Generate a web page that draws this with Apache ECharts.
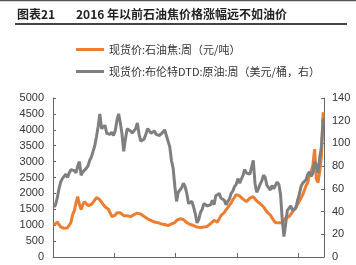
<!DOCTYPE html>
<html>
<head>
<meta charset="utf-8">
<script src="https://cdn.jsdelivr.net/npm/echarts@6/dist/echarts.min.js"></script>
<style>
html,body{margin:0;padding:0;background:#fff;}
#c{width:356px;height:265px;}
</style>
</head>
<body>
<div id="c"></div>
<script>
// ---- data ----
const titleText = ['图表21', '2016 年以前石油焦价格涨幅远不如油价'];
const seriesNames = ['现货价:石油焦:周（元/吨）', '现货价:布伦特DTD:原油:周（美元/桶，右）'];
const startYear = 2009; // first month: 2009-01, monthly points
const leftTicks = {min: 0, max: 5000, interval: 500};
const rightTicks = {min: 0, max: 140, interval: 20};

// 石油焦 (元/吨), monthly, 2009-01 .. 2022-03
const petcoke = [
  1000, 1050, 1100, 1080, 950, 920, 900, 910, 920, 950, 1080, 1330,   // 2009
  1450, 1700, 1900, 1650, 1490, 1650, 1740, 1700, 1620, 1580, 1650, 1720, // 2010
  1780, 1870, 1830, 1800, 1750, 1650, 1580, 1580, 1500, 1400, 1270, 1300, // 2011
  1320, 1390, 1400, 1390, 1350, 1300, 1280, 1300, 1280, 1270, 1300, 1330, // 2012
  1350, 1380, 1390, 1350, 1300, 1270, 1230, 1200, 1180, 1150, 1120, 1100, // 2013
  1110, 1080, 1060, 1040, 1030, 1020, 1010, 990, 1000, 1040, 1060, 1080,  // 2014
  1150, 1180, 1200, 1230, 1180, 1120, 1080, 1050, 1020, 1000, 990, 980,   // 2015
  940, 920, 930, 950, 940, 930, 960, 1010, 1050, 1080, 1150, 1100,        // 2016
  1100, 1200, 1300, 1330, 1400, 1480, 1550, 1580, 1700, 1800, 1880, 1960, // 2017
  1960, 1920, 1900, 1820, 1760, 1740, 1780, 1850, 1900, 1900, 1850, 1760, // 2018
  1740, 1680, 1620, 1580, 1500, 1420, 1390, 1320, 1230, 1150, 1080, 1060, // 2019
  1080, 1090, 1080, 1150, 1230, 1250, 1270, 1330, 1420, 1490, 1550, 1650, // 2020
  1750, 1850, 1960, 2100, 2250, 2340, 2600, 2700, 2900, 3390, 2450, 2340, // 2021
  2700, 3170, 4550                                                      // 2022
];
// 布伦特DTD (美元/桶), monthly, 2009-01 .. 2022-03
const brent = [
  44, 46, 52, 60, 66, 69, 68, 73, 70, 74, 77, 76,        // 2009
  76, 74, 80, 84, 72, 75, 76, 78, 80, 85, 88, 93,        // 2010
  98, 106, 115, 126, 113, 112, 116, 109, 110, 108, 110, 107, // 2011
  111, 120, 126, 118, 108, 93, 104, 113, 112, 111, 109, 109, // 2012
  113, 118, 108, 102, 103, 104, 108, 113, 111, 109, 108, 111, // 2013
  108, 109, 107, 108, 110, 112, 107, 102, 97, 85, 78, 62,  // 2014
  49, 57, 56, 61, 65, 62, 56, 47, 48, 49, 44, 38,        // 2015
  30, 33, 39, 42, 47, 48, 45, 46, 46, 50, 46, 54,        // 2016
  55, 56, 52, 53, 50, 46, 49, 51, 56, 58, 62, 64,        // 2017
  69, 65, 66, 72, 77, 74, 74, 73, 79, 85, 65, 57,        // 2018
  60, 64, 67, 72, 70, 63, 64, 59, 63, 60, 63, 66,        // 2019
  64, 55, 33, 18, 29, 41, 43, 45, 41, 40, 43, 50,        // 2020
  55, 62, 65, 65, 68, 73, 75, 71, 74, 84, 81, 74,        // 2021
  88, 97, 122                                            // 2022
];
const xAxisMonths = {min: 0, max: 159, interval: 36}; // months since 2009-01

// ---- build ----
const toPairs = arr => arr.map((v, i) => [i + 0.5, v]);
const chart = echarts.init(document.getElementById('c'), null, {renderer: 'canvas'});
const axisColor = '#666';
const labelStyle = {color: '#333', fontSize: 11, fontFamily: 'Liberation Sans, Arial, sans-serif', formatter: v => String(v)};
chart.setOption({
  animation: false,
  backgroundColor: '#fff',
  graphic: [
    {type: 'line', shape: {x1: 0, y1: 0.5, x2: 356, y2: 0.5}, style: {stroke: '#555', lineWidth: 1.5}},
    {type: 'text', left: 17, top: 8, style: {text: titleText[0], font: 'bold 12px "Noto Sans CJK SC", sans-serif', fill: '#222'}},
    {type: 'text', left: 76, top: 8, style: {text: titleText[1], font: 'bold 12px "Noto Sans CJK SC", sans-serif', fill: '#222'}},
    {type: 'line', shape: {x1: 15, y1: 24, x2: 347, y2: 24}, style: {stroke: '#444', lineWidth: 2}}
  ],
  legend: {
    orient: 'vertical',
    left: 71, top: 39,
    itemWidth: 28, itemHeight: 3, itemGap: 11,
    icon: 'rect',
    textStyle: {color: '#333', fontSize: 11, fontFamily: '"Noto Sans CJK SC", sans-serif'},
    data: seriesNames
  },
  grid: {left: 53, right: 32, top: 98, bottom: 8, containLabel: false},
  xAxis: {
    type: 'value', min: xAxisMonths.min, max: xAxisMonths.max, interval: xAxisMonths.interval,
    axisLine: {lineStyle: {color: axisColor, width: 1}},
    axisTick: {inside: true, length: 4, lineStyle: {color: axisColor}},
    axisLabel: {show: false},
    splitLine: {show: false}
  },
  yAxis: [
    {
      type: 'value', min: leftTicks.min, max: leftTicks.max, interval: leftTicks.interval,
      axisLine: {show: true, lineStyle: {color: axisColor}},
      axisTick: {show: true, inside: true, length: 3, lineStyle: {color: axisColor}},
      axisLabel: Object.assign({margin: 9}, labelStyle),
      splitLine: {show: false}
    },
    {
      type: 'value', min: rightTicks.min, max: rightTicks.max, interval: rightTicks.interval,
      position: 'right',
      axisLine: {show: true, lineStyle: {color: axisColor}},
      axisTick: {show: true, inside: true, length: 3, lineStyle: {color: axisColor}},
      axisLabel: Object.assign({margin: 8}, labelStyle),
      splitLine: {show: false}
    }
  ],
  series: [
    {
      name: seriesNames[0], type: 'line', yAxisIndex: 0, showSymbol: false,
      data: toPairs(petcoke),
      itemStyle: {color: '#ED7D31'},
      lineStyle: {color: '#ED7D31', width: 3}
    },
    {
      name: seriesNames[1], type: 'line', yAxisIndex: 1, showSymbol: false,
      data: toPairs(brent),
      itemStyle: {color: '#7F7F7F'},
      lineStyle: {color: '#7F7F7F', width: 3}
    }
  ]
});
</script>
</body>
</html>
